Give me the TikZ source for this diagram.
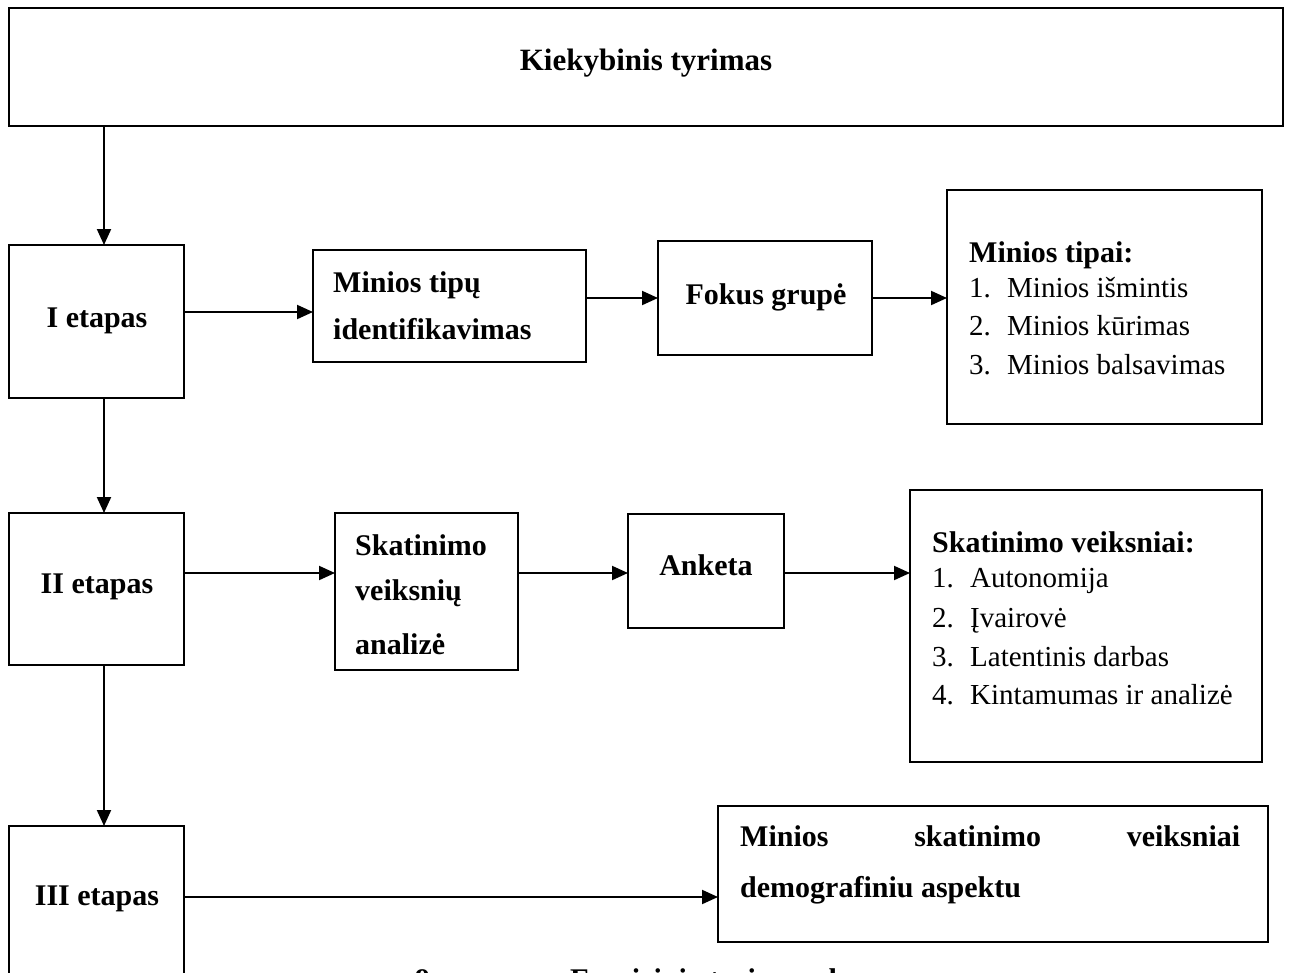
\documentclass[tikz,border=0pt]{standalone}
\usepackage{fontspec}
\setmainfont{Liberation Serif}
\usetikzlibrary{arrows.meta}
\begin{document}
\begin{tikzpicture}[x=1pt,y=-1pt,
  box/.style={draw, line width=2pt, inner sep=0pt, outer sep=0pt, anchor=north west},
  arr/.style={line width=2pt, -{Triangle[length=16pt,width=14pt]}},
  txt/.style={inner sep=0pt, anchor=base west, font=\fontsize{29}{34}\selectfont},
  btxt/.style={inner sep=0pt, anchor=base west, font=\fontsize{30}{34}\selectfont\bfseries},
  ctxt/.style={btxt, anchor=base}]
\useasboundingbox (0,0) rectangle (1293,972);
% boxes
\node[box, minimum width=1274pt, minimum height=118pt] (top) at (9,8) {};
\node[box, minimum width=175pt, minimum height=153pt] (i1) at (9,245) {};
\node[box, minimum width=273pt, minimum height=112pt] (mt) at (313,250) {};
\node[box, minimum width=214pt, minimum height=114pt] (fg) at (658,241) {};
\node[box, minimum width=315pt, minimum height=234pt] (tp) at (947,190) {};
\node[box, minimum width=175pt, minimum height=152pt] (i2) at (9,513) {};
\node[box, minimum width=183pt, minimum height=157pt] (sv) at (335,513) {};
\node[box, minimum width=156pt, minimum height=114pt] (an) at (628,514) {};
\node[box, minimum width=352pt, minimum height=272pt] (sk) at (910,490) {};
\node[box, minimum width=175pt, minimum height=200pt] (i3) at (9,826) {};
\node[box, minimum width=550pt, minimum height=136pt] (ms) at (718,806) {};
% texts
\node[ctxt, font=\fontsize{31}{34}\selectfont\bfseries] (ttop) at (646,70) {Kiekybinis tyrimas};
\node[ctxt] (ti1) at (97,327) {I etapas};
\node[btxt] (tmt1) at (333,292) {Minios tipų};
\node[btxt] (tmt2) at (333,339) {identifikavimas};
\node[ctxt] (tfg) at (766,304) {Fokus grupė};
\node[btxt] (ttp0) at (969,262) {Minios tipai:};
\node[txt] (ttp1) at (969,297) {\makebox[38pt][l]{1.}Minios išmintis};
\node[txt] (ttp2) at (969,335) {\makebox[38pt][l]{2.}Minios kūrimas};
\node[txt] (ttp3) at (969,374) {\makebox[38pt][l]{3.}Minios balsavimas};
\node[ctxt] (ti2) at (97,593) {II etapas};
\node[btxt] (tsv1) at (355,555) {Skatinimo};
\node[btxt] (tsv2) at (355,600) {veiksnių};
\node[btxt] (tsv3) at (355,654) {analizė};
\node[ctxt] (tan) at (706,575) {Anketa};
\node[btxt] (tsk0) at (932,552) {Skatinimo veiksniai:};
\node[txt] (tsk1) at (932,587) {\makebox[38pt][l]{1.}Autonomija};
\node[txt] (tsk2) at (932,627) {\makebox[38pt][l]{2.}Įvairovė};
\node[txt] (tsk3) at (932,666) {\makebox[38pt][l]{3.}Latentinis darbas};
\node[txt] (tsk4) at (932,704) {\makebox[38pt][l]{4.}Kintamumas ir analizė};
\node[ctxt] (ti3) at (97,905) {III etapas};
\node[btxt] (tms1) at (740,846) {\makebox[500pt][s]{Minios\hfill skatinimo\hfill veiksniai}};
\node[btxt] (tms2) at (740,897) {demografiniu aspektu};
\node[btxt] (cap) at (415,989) {9 pav.\hspace*{80pt}Empirinio tyrimo schema};
% connectors
\coordinate (r1) at (0,312);
\coordinate (r1b) at (0,298);
\coordinate (r2) at (0,573);
\coordinate (r3) at (0,897);
\coordinate (c0) at (104,0);
\draw[arr] (top.south -| c0) -- (i1.north -| c0);
\draw[arr] (i1.south -| c0) -- (i2.north -| c0);
\draw[arr] (i2.south -| c0) -- (i3.north -| c0);
\draw[arr] (i1.east |- r1) -- (mt.west |- r1);
\draw[arr] (mt.east |- r1b) -- (fg.west |- r1b);
\draw[arr] (fg.east |- r1b) -- (tp.west |- r1b);
\draw[arr] (i2.east |- r2) -- (sv.west |- r2);
\draw[arr] (sv.east |- r2) -- (an.west |- r2);
\draw[arr] (an.east |- r2) -- (sk.west |- r2);
\draw[arr] (i3.east |- r3) -- (ms.west |- r3);
\end{tikzpicture}
\end{document}
